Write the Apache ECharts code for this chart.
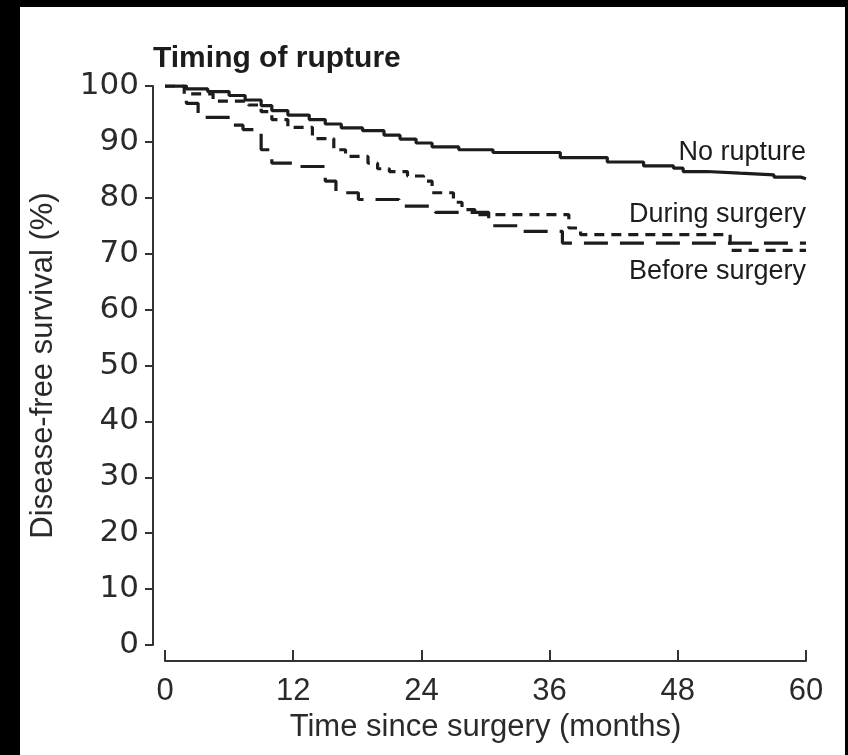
<!DOCTYPE html>
<html>
<head>
<meta charset="utf-8">
<script src="https://cdn.jsdelivr.net/npm/echarts@6/dist/echarts.min.js"></script>
<style>
  html, body { margin: 0; padding: 0; background: #000; }
  #frame { position: relative; width: 848px; height: 755px; background: #000; overflow: hidden; }
  #chart { position: absolute; left: 20px; top: 7px; width: 825px; height: 748px; background: #fff; }
</style>
</head>
<body>
<div id="frame"><div id="chart"></div></div>
<script>
// Kaplan-Meier disease-free survival by timing of tumour rupture
const xTicks = [0, 12, 24, 36, 48, 60];
const yTicks = [0, 10, 20, 30, 40, 50, 60, 70, 80, 90, 100];

// No rupture: event times (months) and survival (%)
const noRuptureT = [0, 2.0, 4.0, 6.0, 7.5, 9.0, 10.0, 11.5, 13.5, 15.0, 16.5, 18.5, 20.5, 22.0, 23.5, 25.0, 27.5, 30.7, 37.0, 41.4, 44.8, 47.6, 48.5, 50.7, 53.8, 57.0, 59.5, 60];
const noRuptureS = [100, 99.5, 99.0, 98.3, 97.5, 96.5, 95.6, 94.8, 94.0, 93.2, 92.5, 92.0, 91.2, 90.5, 89.8, 89.1, 88.6, 88.1, 87.2, 86.4, 85.7, 85.3, 84.7, 84.4, 84.1, 83.7, 83.4, 83.4];

// Rupture during surgery
const duringT = [0, 1.8, 4.5, 7.8, 9.0, 10.0, 11.5, 13.8, 15.8, 16.9, 19.0, 19.9, 21.0, 22.7, 24.2, 25.0, 27.0, 27.8, 29.0, 37.8, 38.9, 52.9, 60];
const duringS = [100, 98.6, 97.3, 96.6, 95.4, 94.0, 92.6, 90.6, 88.6, 87.4, 86.2, 85.2, 84.7, 83.9, 83.0, 80.9, 79.2, 77.9, 77.0, 74.6, 73.4, 70.6, 70.6];

// Rupture before surgery
const beforeT = [0, 2.0, 3.1, 6.3, 7.3, 9.0, 10.0, 12.3, 15.0, 16.0, 18.1, 21.9, 25.3, 30.3, 33.3, 37.2, 60];
const beforeS = [100, 96.9, 94.4, 93.0, 92.2, 88.6, 86.2, 85.6, 83.0, 80.9, 79.7, 78.5, 77.4, 75.0, 74.0, 71.9, 71.9];

const seriesNames = ['No rupture', 'During surgery', 'Before surgery'];

function pairs(t, s) { return t.map((v, i) => [v, s[i]]); }

const ink = '#1c1c1c';
const labelInk = '#2a2a2a';
const font = '"Liberation Sans", Arial, sans-serif';

const chart = echarts.init(document.getElementById('chart'), null, { renderer: 'canvas' });

chart.setOption({
  backgroundColor: '#fff',
  animation: false,
  title: {
    text: 'Timing of rupture',
    left: 128, top: 32,
    textStyle: { fontFamily: font, fontWeight: 'bold', fontSize: 30, color: ink }
  },
  grid: { left: 144, right: 39, top: 79, bottom: 110 },
  xAxis: {
    type: 'value', min: 0, max: 60, interval: 12,
    offset: 16,
    name: 'Time since surgery (months)',
    nameLocation: 'middle', nameGap: 51,
    nameTextStyle: { fontFamily: font, fontSize: 31, color: labelInk },
    axisLine: { show: true, onZero: false, lineStyle: { color: '#333', width: 2 } },
    axisTick: { show: true, inside: true, length: 11, lineStyle: { color: '#333', width: 2 } },
    axisLabel: {
      margin: 15, fontFamily: font, fontSize: 31, color: labelInk,
      formatter: v => xTicks.includes(v) ? String(v) : ''
    },
    splitLine: { show: false }
  },
  yAxis: {
    type: 'value', min: 0, max: 100, interval: 10,
    offset: 12,
    name: 'Disease-free survival (%)',
    nameLocation: 'middle', nameGap: 94, nameRotate: 90,
    nameTextStyle: { fontFamily: font, fontSize: 31, color: labelInk },
    axisLine: { show: true, onZero: false, lineStyle: { color: '#333', width: 2 } },
    axisTick: { show: true, length: 8, lineStyle: { color: '#333', width: 2 } },
    axisLabel: {
      margin: 14, fontFamily: '"DejaVu Sans", Verdana, sans-serif', fontSize: 31, color: labelInk,
      formatter: v => yTicks.includes(v) ? String(v) : ''
    },
    splitLine: { show: false }
  },
  series: [
    {
      name: seriesNames[0], type: 'line', step: 'end', showSymbol: false,
      data: pairs(noRuptureT, noRuptureS),
      lineStyle: { color: ink, width: 3.2, type: 'solid' }
    },
    {
      name: seriesNames[1], type: 'line', step: 'end', showSymbol: false,
      data: pairs(duringT, duringS),
      lineStyle: { color: ink, width: 3.2, type: [10, 7] }
    },
    {
      name: seriesNames[2], type: 'line', step: 'end', showSymbol: false,
      data: pairs(beforeT, beforeS),
      lineStyle: { color: ink, width: 3.2, type: [24, 12] }
    }
  ],
  graphic: [
    { type: 'text', right: 39, top: 132, style: { text: seriesNames[0], fill: ink, font: '27px ' + font } },
    { type: 'text', right: 39, top: 194, style: { text: seriesNames[1], fill: ink, font: '27px ' + font } },
    { type: 'text', right: 39, top: 251, style: { text: seriesNames[2], fill: ink, font: '27px ' + font } }
  ]
});
</script>
</body>
</html>
